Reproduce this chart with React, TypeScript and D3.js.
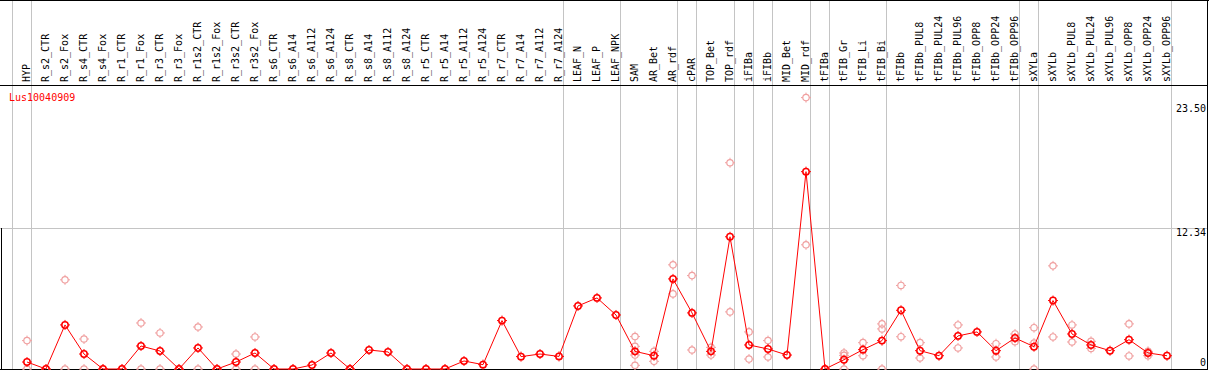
import React from "react";
import * as d3 from "d3";

const WIDTH = 1209;
const HEIGHT = 370;

// sample names along the top
const samples = [
  "HYP", "R_s2_CTR", "R_s2_Fox", "R_s4_CTR", "R_s4_Fox", "R_r1_CTR", "R_r1_Fox",
  "R_r3_CTR", "R_r3_Fox", "R_r1s2_CTR", "R_r1s2_Fox", "R_r3s2_CTR", "R_r3s2_Fox",
  "R_s6_CTR", "R_s6_A14", "R_s6_A112", "R_s6_A124", "R_s8_CTR", "R_s8_A14",
  "R_s8_A112", "R_s8_A124", "R_r5_CTR", "R_r5_A14", "R_r5_A112", "R_r5_A124",
  "R_r7_CTR", "R_r7_A14", "R_r7_A112", "R_r7_A124", "LEAF_N", "LEAF_P", "LEAF_NPK",
  "SAM", "AR_Bet", "AR_rdf", "cPAR", "TOP_Bet", "TOP_rdf", "iFIBa", "iFIBb",
  "MID_Bet", "MID_rdf", "tFIBa", "tFIB_Gr", "tFIB_Li", "tFIB_Bi", "tFIBb",
  "tFIBb_PUL8", "tFIBb_PUL24", "tFIBb_PUL96", "tFIBb_OPP8", "tFIBb_OPP24",
  "tFIBb_OPP96", "sXYLa", "sXYLb", "sXYLb_PUL8", "sXYLb_PUL24", "sXYLb_PUL96",
  "sXYLb_OPP8", "sXYLb_OPP24", "sXYLb_OPP96",
];

// mean expression per sample
const means = [
  0.61, 0, 3.85, 1.31, 0, 0, 2.01, 1.57, 0, 1.84, 0, 0.61, 1.4,
  0, 0, 0.35, 1.4, 0, 1.66, 1.49, 0, 0, 0, 0.7, 0.38,
  4.23, 1.08, 1.31, 1.1, 5.51, 6.21, 4.72,
  1.54, 1.16, 7.87, 4.9, 1.54, 11.55, 2.1, 1.75,
  1.22, 17.24, 0, 0.81, 1.69, 2.48, 5.13,
  1.6, 1.16, 2.89, 3.24, 1.6, 2.71,
  1.95, 5.98, 3.06, 2.1, 1.6, 2.56, 1.4, 1.16,
];

// individual replicates per sample
const replicates: number[][] = [
  [2.48, 0], [0], [7.79, 0], [2.62, 0], [0], [0], [4.02, 0], [3.15, 0], [0],
  [3.67, 0], [0], [1.31, 0], [2.8, 0],
  [0], [0], [], [], [0], [], [], [0], [0], [0], [], [],
  [], [], [], [], [], [], [],
  [2.83, 1.98, 1.22, 0.32], [1.54, 0.67], [9.1, 6.56], [8.16, 1.66], [1.89, 1.22],
  [18.02, 4.99], [3.24, 0.87], [2.48, 1.05],
  [], [23.71, 10.85], [0], [1.4, 1.19, 0], [2.3, 1.16], [3.94, 3.5, 0], [7.3, 2.82],
  [2.3, 0.96], [], [3.85, 1.84], [], [2.21, 1.05], [3.06, 2.39],
  [3.61, 2.27, 0], [9.01, 2.8], [3.85, 2.36], [2.42, 1.8], [], [3.94, 1.14],
  [1.54, 1.16], [],
];

// group separators: vertical line drawn after these sample indices
const separators = [-1, 0, 28, 31, 34, 35, 37, 38, 39, 41, 42, 45, 52, 53, 60];

const yTicks = [23.5, 12.34, 0];
const yTickLabels = ["23.50", "12.34", "0"];
const yTickDy = [12, 8, -3];

const gene = "Lus10040909";

const FONT = "'DejaVu Sans Mono', monospace";
const RED = "#ff0000";
const PINK = "#f0a0a0";
const GRID = "#c4c4c4";

const Marker = ({ x, y, color, w }: { x: number; y: number; color: string; w: number }) => {
  const r = 3.2;
  const t = 1.8;
  const d = [
    `M${x},${y - r - t}V${y - r}`,
    `M${x},${y + r}V${y + r + t}`,
    `M${x - r - t},${y}H${x - r}`,
    `M${x + r},${y}H${x + r + t}`,
  ].join("");
  return (
    <g>
      <circle cx={x} cy={y} r={r} fill="none" stroke={color} strokeWidth={w} />
      <path d={d} stroke={color} strokeWidth={1} />
    </g>
  );
};

export default function App() {
  const idx = d3.range(samples.length);
  const x = d3.scaleLinear().domain([0, samples.length - 1]).range([27, 1167]);
  const y = d3.scaleLinear().domain([0, 23.5]).range([369, 100]);

  const line = d3
    .line<number>()
    .x((i) => x(i))
    .y((i) => y(means[i]));

  const plotTop = 85.5;

  return (
    <svg
      width={WIDTH}
      height={HEIGHT}
      style={{ position: "absolute", left: 0, top: 0, background: "#fff" }}
      fontFamily={FONT}
    >
      {/* horizontal grid at mid tick */}
      <line x1={0} x2={1207} y1={Math.round(y(12.34)) + 0.5} y2={Math.round(y(12.34)) + 0.5} stroke={GRID} />
      {/* group separators */}
      {separators.map((s) => {
        const px = Math.round(x(s) + 3.6) + 0.5;
        return <line key={s} x1={px} x2={px} y1={0} y2={HEIGHT} stroke={GRID} />;
      })}
      {/* frame */}
      <line x1={0} x2={WIDTH} y1={0.5} y2={0.5} stroke="#000" />
      <line x1={0} x2={1208} y1={plotTop} y2={plotTop} stroke="#000" />
      <line x1={0} x2={1208} y1={369.5} y2={369.5} stroke="#000" />
      <line x1={1207.5} x2={1207.5} y1={0} y2={HEIGHT} stroke="#000" />
      <line x1={1.5} x2={1.5} y1={Math.round(y(12.34))} y2={HEIGHT} stroke="#000" />

      {/* sample labels */}
      {samples.map((s, i) => (
        <text
          key={s}
          transform={`translate(${x(i) + 3},82) rotate(-90)`}
          fontSize={10}
          fill="#000"
        >
          {s}
        </text>
      ))}

      {/* y labels */}
      {yTicks.map((v, i) => (
        <text
          key={v}
          x={1206}
          y={y(v) + yTickDy[i]}
          fontSize={10}
          textAnchor="end"
          fill="#000"
        >
          {yTickLabels[i]}
        </text>
      ))}

      <text x={9} y={101} fontSize={10} fill={RED}>
        {gene}
      </text>

      {/* replicates */}
      {idx.map((i) =>
        replicates[i].map((v, k) => (
          <Marker key={`${i}-${k}`} x={x(i)} y={y(v)} color={PINK} w={1.2} />
        ))
      )}

      {/* mean line */}
      <path d={line(idx) || ""} fill="none" stroke={RED} strokeWidth={1} />
      {idx.map((i) => (
        <Marker key={`m${i}`} x={x(i)} y={y(means[i])} color={RED} w={1.5} />
      ))}
    </svg>
  );
}
